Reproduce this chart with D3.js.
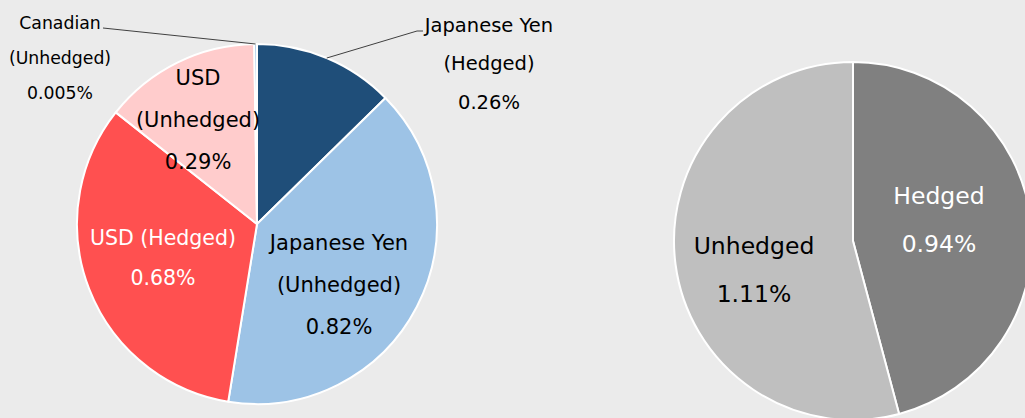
<!DOCTYPE html>
<html>
<head>
<meta charset="utf-8">
<script src="https://cdn.jsdelivr.net/npm/d3@7"></script>
<style>
  body { margin: 0; background: #ebebeb; }
  svg { display: block; font-family: "DejaVu Sans", sans-serif; }
</style>
</head>
<body>
<div id="chart"></div>
<script>
// left pie: currency split
var currencyNames = [["Japanese Yen", "(Hedged)"], ["Japanese Yen", "(Unhedged)"], ["USD (Hedged)"], ["USD", "(Unhedged)"], ["Canadian", "(Unhedged)"]];
var currencyValues = [0.26, 0.82, 0.68, 0.29, 0.005];
var currencyLabels = ["0.26%", "0.82%", "0.68%", "0.29%", "0.005%"];
var currencyColors = ["#1f4e79", "#9dc3e6", "#ff5050", "#ffcccc", "#9dc3e6"];

// right pie: hedged vs unhedged
var hedgeNames = ["Hedged", "Unhedged"];
var hedgeValues = [0.94, 1.11];
var hedgeLabels = ["0.94%", "1.11%"];
var hedgeColors = ["#808080", "#bfbfbf"];

var width = 1025;
var height = 418;

var svg = d3.select("#chart")
  .append("svg")
  .attr("width", width)
  .attr("height", height);

svg.append("rect").attr("width", width).attr("height", height).attr("fill", "#ebebeb");

var pie = d3.pie().sort(null).value(d => d.value);

// label placement relative to each pie centre (layout only)
var leftLayout = {
  cx: 257, cy: 224, r: 180,
  labels: [
    { outside: true, x: 489, y: 25, gap: 38.5, size: 19.5, fill: "#000", lineTo: [417, 31, 423, 31] },
    { x: 82, y: 19, gap: 42, size: 21, fill: "#000" },
    { x: -94, y: 14, gap: 40, size: 20.5, fill: "#fff" },
    { x: -59, y: -146, gap: 42, size: 21, fill: "#000" },
    { outside: true, x: 60, y: 23, gap: 35, size: 17.3, fill: "#000", lineTo: [103, 28, 103, 28] }
  ]
};
var rightLayout = {
  cx: 853, cy: 241, r: 179,
  labels: [
    { x: 86, y: -45, gap: 48, size: 23.5, fill: "#fff" },
    { x: -99, y: 5, gap: 48, size: 23.5, fill: "#000" }
  ]
};

function drawPie(names, values, labels, colors, layout) {
  var data = values.map((v, i) => ({ name: names[i], value: v, label: labels[i], color: colors[i] }));
  var arcs = pie(data);
  var arc = d3.arc().innerRadius(0).outerRadius(layout.r);

  var g = svg.append("g").attr("transform", `translate(${layout.cx},${layout.cy})`);

  g.selectAll("path")
    .data(arcs)
    .join("path")
    .attr("d", arc)
    .attr("fill", d => d.data.color)
    .attr("stroke", "#fff")
    .attr("stroke-width", 2)
    .attr("stroke-linejoin", "round");

  arcs.forEach((d, i) => {
    var lay = layout.labels[i];
    var lines = [].concat(d.data.name, d.data.label);
    var x0 = lay.outside ? lay.x - layout.cx : lay.x;
    var y0 = lay.outside ? lay.y - layout.cy : lay.y;

    if (lay.outside) {
      var mid = (d.startAngle + d.endAngle) / 2;
      var px = Math.sin(mid) * layout.r;
      var py = -Math.cos(mid) * layout.r;
      var pts = [[px, py], [lay.lineTo[0] - layout.cx, lay.lineTo[1] - layout.cy], [lay.lineTo[2] - layout.cx, lay.lineTo[3] - layout.cy]];
      g.append("path")
        .attr("d", d3.line()(pts))
        .attr("fill", "none")
        .attr("stroke", "#404040")
        .attr("stroke-width", 1);
    }

    g.append("g")
      .selectAll("text")
      .data(lines)
      .join("text")
      .attr("x", x0)
      .attr("y", (t, j) => y0 + j * lay.gap)
      .attr("text-anchor", "middle")
      .attr("dominant-baseline", "central")
      .attr("font-size", lay.size)
      .attr("fill", lay.fill)
      .text(t => t);
  });
}

drawPie(currencyNames, currencyValues, currencyLabels, currencyColors, leftLayout);
drawPie(hedgeNames, hedgeValues, hedgeLabels, hedgeColors, rightLayout);
</script>
</body>
</html>
